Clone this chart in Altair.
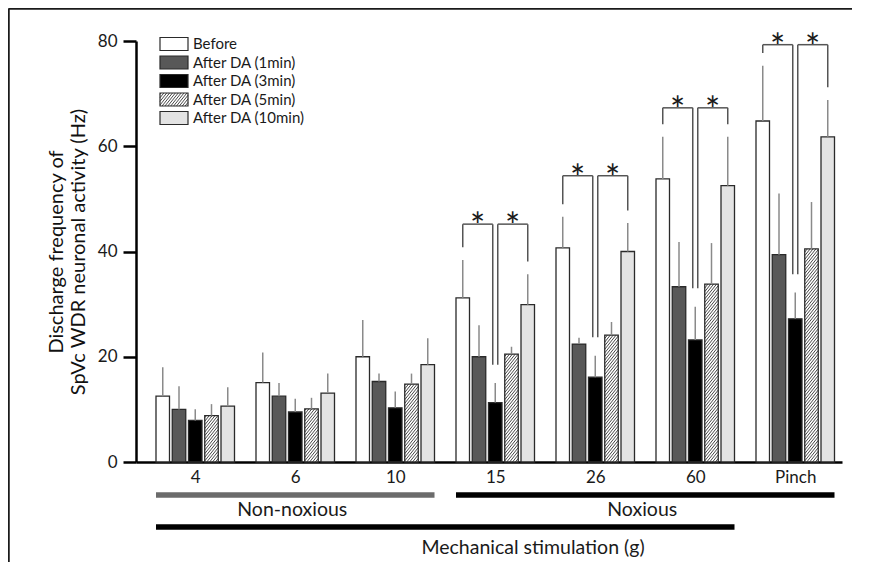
import json
import altair as alt
import numpy as np
import pandas as pd

# ---------------- data ----------------
groups = ["4", "6", "10", "15", "26", "60", "Pinch"]
series = ["Before", "After DA (1min)", "After DA (3min)", "After DA (5min)", "After DA (10min)"]

before = [12.5, 15.1, 20.0, 31.2, 40.7, 53.8, 64.8]
before_sem = [5.5, 5.7, 7.0, 7.2, 5.9, 8.0, 10.5]
da1 = [10.0, 12.5, 15.3, 20.0, 22.4, 33.3, 39.4]
da1_sem = [4.4, 2.5, 1.5, 6.0, 1.2, 8.5, 11.6]
da3 = [7.9, 9.5, 10.3, 11.3, 16.1, 23.2, 27.2]
da3_sem = [2.1, 2.5, 3.1, 3.7, 4.1, 6.3, 5.0]
da5 = [8.8, 10.1, 14.8, 20.5, 24.1, 33.8, 40.5]
da5_sem = [2.2, 2.1, 2.0, 1.4, 2.5, 7.8, 8.9]
da10 = [10.6, 13.1, 18.5, 29.9, 40.0, 52.5, 61.8]
da10_sem = [3.6, 3.7, 5.0, 5.8, 5.4, 9.3, 7.0]

sig_groups = ["15", "26", "60", "Pinch"]
bracket_tops = [45.2, 54.4, 67.3, 79.3]

class_names = ["Non-noxious", "Noxious", "Mechanical stimulation (g)"]
class_first = ["4", "15", "4"]
class_last = ["10", "Pinch", "60"]

y_ticks = [0, 20, 40, 60, 80]

# ---------------- styling / geometry ----------------
fills = ["#ffffff", "#585858", "#000000", "#ffffff", "#e3e3e3"]
FONT = "Lato"
W, H = 706, 421
X_DOM = [-0.2, -0.2 + W / 100.0]
Y_DOM = [0, 80]
STEP = 0.1625   # bar step inside a group (group step = 1)
BW = 0.135      # bar width
PX_PER_Y = H / (Y_DOM[1] - Y_DOM[0])
PX_PER_X = W / (X_DOM[1] - X_DOM[0])

means = [before, da1, da3, da5, da10]
sems = [before_sem, da1_sem, da3_sem, da5_sem, da10_sem]

rows = []
for g, grp in enumerate(groups):
    for k, s in enumerate(series):
        xl = g + k * STEP
        rows.append(dict(group=grp, series=s, xl=xl, xr=xl + BW, xc=xl + BW / 2,
                         mean=means[k][g], top=means[k][g] + sems[k][g], zero=0.0))
bars = pd.DataFrame(rows)


def hatch(x0, x1, y0, y1, m, period):
    """diagonal '/' segments clipped to a rectangle (y upward)."""
    segs = []
    c = y0 - m * (x1 - x0)
    while c < y1:
        xa = x0 + (y0 - c) / m
        xb = x0 + (y1 - c) / m
        xs, xe = max(x0, xa), min(x1, xb)
        if xe > xs:
            segs.append((xs, c + m * (xs - x0), xe, c + m * (xe - x0)))
        c += period
    return segs


m_data = 1.25 * PX_PER_X / PX_PER_Y
per_data = 3.6 / PX_PER_Y
hrows = []
for g in range(len(groups)):
    xl = g + 3 * STEP
    for (a, b, c, d) in hatch(xl, xl + BW, 0, da5[g], m_data, per_data):
        hrows.append(dict(x=a, y=b, x2=c, y2=d))
hatch_df = pd.DataFrame(hrows)

# brackets
brows, srows = [], []
GAP_OUT, GAP_MID, SPLIT = 2.4, 3.5, 0.025
for grp, bt in zip(sig_groups, bracket_tops):
    b = bars[(bars.group == grp)].set_index("series")
    xb, x3, x10 = b.loc[series[0], "xc"], b.loc[series[2], "xc"], b.loc[series[4], "xc"]
    tb, t3, t10 = b.loc[series[0], "top"], b.loc[series[2], "top"], b.loc[series[4], "top"]
    brows += [
        dict(x=xb, x2=xb, y=tb + GAP_OUT, y2=bt),
        dict(x=xb, x2=x3 - SPLIT, y=bt, y2=bt),
        dict(x=x3 - SPLIT, x2=x3 - SPLIT, y=t3 + GAP_MID, y2=bt),
        dict(x=x3 + SPLIT, x2=x3 + SPLIT, y=t3 + GAP_MID, y2=bt),
        dict(x=x3 + SPLIT, x2=x10, y=bt, y2=bt),
        dict(x=x10, x2=x10, y=t10 + GAP_OUT, y2=bt),
    ]
    srows += [dict(x=(xb + x3 - SPLIT) / 2, y=bt), dict(x=(x3 + SPLIT + x10) / 2, y=bt)]
br_df = pd.DataFrame(brows)
star_df = pd.DataFrame(srows)

# category bars under the axis
crow = []
for name, f, l in zip(class_names, class_first, class_last):
    a = groups.index(f)
    z = groups.index(l) + 4 * STEP + BW
    crow.append(dict(name=name, x=a, x2=z, xm=(a + z) / 2))
cls = pd.DataFrame(crow)

xs = alt.Scale(domain=X_DOM, nice=False, zero=False)
ys = alt.Scale(domain=Y_DOM, nice=False)

label_pos = [g + (4 * STEP + BW) / 2 for g in range(len(groups))]
label_expr = json.dumps(groups) + "[round(datum.value - %f)]" % ((4 * STEP + BW) / 2)

base = alt.Chart(bars)

fill_layer = base.mark_rect(strokeWidth=0).encode(
    x=alt.X("xl:Q", scale=xs, axis=alt.Axis(
        values=label_pos, labelExpr=label_expr, ticks=False, grid=False, title=None,
        domainColor="#000", domainWidth=2.5, labelFontSize=17, labelColor="#1a1a1a",
        labelPadding=7, labelOverlap=False, labelFlush=False)),
    x2="xr:Q",
    y=alt.Y("mean:Q", scale=ys, axis=alt.Axis(
        values=y_ticks, tickSize=13, tickWidth=2.5, tickColor="#000",
        domainColor="#000", domainWidth=2.5, grid=False, labelFontSize=17,
        labelColor="#1a1a1a", labelPadding=6,
        title=["Discharge frequency of", "SpVc WDR neuronal activity (Hz)"],
        titleFontSize=20, titleFontWeight="normal", titleColor="#111",
        titleLineHeight=22, titlePadding=9)),
    y2="zero:Q",
    fill=alt.Fill("series:N", scale=alt.Scale(domain=series, range=fills), legend=None),
)

hatch_layer = alt.Chart(hatch_df).mark_rule(color="#333", strokeWidth=0.9).encode(
    x=alt.X("x:Q", scale=xs), x2="x2:Q", y=alt.Y("y:Q", scale=ys), y2="y2:Q")

outline_layer = base.mark_rect(fillOpacity=0, stroke="#2a2a2a", strokeWidth=1.3).encode(
    x=alt.X("xl:Q", scale=xs), x2="xr:Q", y=alt.Y("mean:Q", scale=ys), y2="zero:Q")

err_layer = base.mark_rule(color="#8a8a8a", strokeWidth=1.5).encode(
    x=alt.X("xc:Q", scale=xs), y=alt.Y("mean:Q", scale=ys), y2="top:Q")

bracket_layer = alt.Chart(br_df).mark_rule(color="#555", strokeWidth=1.5).encode(
    x=alt.X("x:Q", scale=xs), x2="x2:Q", y=alt.Y("y:Q", scale=ys), y2="y2:Q")

star_layer = alt.Chart(star_df).mark_text(
    text="*", font="Lato", fontSize=36, color="#1a1a1a", baseline="alphabetic", dy=15
).encode(x=alt.X("x:Q", scale=xs), y=alt.Y("y:Q", scale=ys))

cls_rule = alt.layer(
    alt.Chart(cls[cls.name == class_names[0]]).mark_rule(strokeWidth=5.5, color="#6b6b6b").encode(
        x=alt.X("x:Q", scale=xs), x2="x2:Q", y=alt.value(454)),
    alt.Chart(cls[cls.name == class_names[1]]).mark_rule(strokeWidth=5.5, color="#000").encode(
        x=alt.X("x:Q", scale=xs), x2="x2:Q", y=alt.value(454)),
    alt.Chart(cls[cls.name == class_names[2]]).mark_rule(strokeWidth=5.5, color="#000").encode(
        x=alt.X("x:Q", scale=xs), x2="x2:Q", y=alt.value(486)),
)
cls_text = alt.layer(
    alt.Chart(cls[cls.name != class_names[2]]).mark_text(
        fontSize=19.5, color="#1a1a1a", baseline="middle", dx=-3).encode(
        x=alt.X("xm:Q", scale=xs), y=alt.value(469), text="name:N"),
    alt.Chart(cls[cls.name == class_names[2]]).mark_text(
        fontSize=19.5, color="#1a1a1a", baseline="middle").encode(
        x=alt.value(397), y=alt.value(507), text="name:N"),
)

# manual legend (pixel space inside the plot area)
LX0, LX1, LTX = 24, 52, 57
leg = pd.DataFrame(dict(series=series, row=[3 + i * 18.5 for i in range(len(series))]))
leg["y0"] = leg.row - 6.5
leg["y1"] = leg.row + 6.5
leg_box = alt.Chart(leg).mark_rect(strokeWidth=0).encode(
    x=alt.value(LX0), x2=alt.value(LX1),
    y=alt.Y("y0:Q", scale=None), y2="y1:Q",
    fill=alt.Fill("series:N", scale=alt.Scale(domain=series, range=fills), legend=None))
lrow = leg.iloc[3]
lh = hatch(LX0, LX1, -lrow.y1, -lrow.y0, 1.25, 3.6)
lh_df = pd.DataFrame([dict(x=a, y=-b, x2=c, y2=-d) for (a, b, c, d) in lh])
leg_hatch = alt.Chart(lh_df).mark_rule(color="#333", strokeWidth=0.9).encode(
    x=alt.X("x:Q", scale=None), x2="x2:Q", y=alt.Y("y:Q", scale=None), y2="y2:Q")
leg_box2 = alt.Chart(leg).mark_rect(fillOpacity=0, stroke="#2a2a2a", strokeWidth=1.2).encode(
    x=alt.value(LX0), x2=alt.value(LX1), y=alt.Y("y0:Q", scale=None), y2="y1:Q")
leg_text = alt.Chart(leg).mark_text(align="left", baseline="middle", fontSize=15, color="#1a1a1a").encode(
    x=alt.value(LTX), y=alt.Y("row:Q", scale=None), text="series:N")

# frame lines of the figure (left and top edges)
frame = alt.layer(
    alt.Chart(leg.head(1)).mark_rule(color="#1a1a1a", strokeWidth=2.5).encode(
        x=alt.value(-127.5), y=alt.value(-32.5), y2=alt.value(540)),
    alt.Chart(leg.head(1)).mark_rule(color="#1a1a1a", strokeWidth=2.5).encode(
        x=alt.value(-127.5), x2=alt.value(740), y=alt.value(-32.5)),
)

chart = alt.layer(
    fill_layer, hatch_layer, outline_layer, err_layer, bracket_layer, star_layer,
    cls_rule, cls_text, leg_box, leg_hatch, leg_box2, leg_text, frame,
).properties(
    width=W, height=H,
    autosize=alt.AutoSizeParams(type="none"),
    padding={"left": 128, "top": 33, "right": 10, "bottom": 100},
).configure(font=FONT).configure_view(strokeWidth=0)

chart.save("out.html", embed_options={"renderer": "svg", "actions": False})
